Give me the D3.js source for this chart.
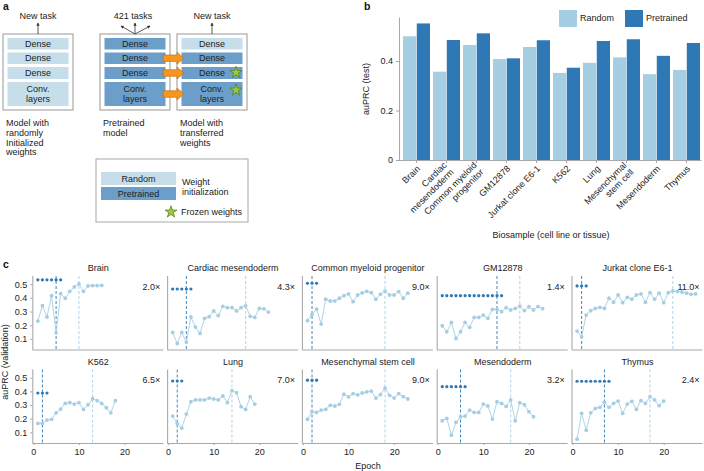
<!DOCTYPE html>
<html><head><meta charset="utf-8">
<script src="https://cdn.jsdelivr.net/npm/d3@7"></script>
<style>
body{margin:0;background:#fff;}
svg{display:block;font-family:"Liberation Sans",Arial,Helvetica,sans-serif;}
</style></head><body>
<svg id="chart" width="704" height="471"></svg>
<script>
// ---------- Panel b data ----------
const biosamples = ["Brain","Cardiac mesendoderm","Common myeloid progenitor","GM12878","Jurkat clone E6-1","K562","Lung","Mesenchymal stem cell","Mesendoderm","Thymus"];
const biosampleLabelLines = [["Brain"],["Cardiac","mesendoderm"],["Common myeloid","progenitor"],["GM12878"],["Jurkat clone E6-1"],["K562"],["Lung"],["Mesenchymal","stem cell"],["Mesendoderm"],["Thymus"]];
const seriesNames = ["Random","Pretrained"];
const testRandom = [0.500,0.357,0.465,0.408,0.457,0.352,0.393,0.415,0.347,0.364];
const testPretrained = [0.552,0.485,0.512,0.411,0.484,0.373,0.481,0.488,0.421,0.473];
const barYTicks = [0,0.2,0.4];

// ---------- Panel c data ----------
const panelTitles = ["Brain","Cardiac mesendoderm","Common myeloid progenitor","GM12878","Jurkat clone E6-1","K562","Lung","Mesenchymal stem cell","Mesendoderm","Thymus"];
const randomCurveBrain = [0.23,0.343,0.26,0.416,0.144,0.431,0.397,0.448,0.48,0.502,0.448,0.487,0.49,0.49,0.492];
const randomCurveCardiac = [0.147,0.066,0.147,0.076,0.26,0.186,0.14,0.25,0.262,0.304,0.27,0.338,0.328,0.328,0.304,0.328,0.342,0.265,0.257,0.323,0.32,0.296];
const randomCurveCMP = [0.233,0.279,0.318,0.208,0.39,0.377,0.377,0.397,0.416,0.429,0.372,0.421,0.436,0.448,0.438,0.39,0.426,0.45,0.421,0.421,0.446,0.397,0.434];
const randomCurveGM = [0.196,0.152,0.22,0.103,0.152,0.22,0.184,0.257,0.257,0.274,0.25,0.316,0.316,0.299,0.328,0.311,0.323,0.34,0.306,0.335,0.311,0.336,0.321];
const randomCurveJurkat = [0.157,0.115,0.274,0.306,0.323,0.331,0.323,0.397,0.368,0.421,0.365,0.404,0.39,0.421,0.429,0.368,0.438,0.39,0.434,0.365,0.438,0.451,0.446,0.443,0.434,0.426,0.429];
const randomCurveK562 = [0.165,0.165,0.19,0.195,0.243,0.27,0.312,0.317,0.307,0.317,0.268,0.302,0.346,0.332,0.312,0.28,0.243,0.332];
const randomCurveLung = [0.219,0.165,0.131,0.234,0.324,0.337,0.337,0.337,0.351,0.344,0.337,0.366,0.317,0.405,0.39,0.288,0.268,0.361,0.307];
const randomCurveMSC = [0.195,0.251,0.246,0.263,0.268,0.298,0.293,0.305,0.379,0.359,0.383,0.374,0.388,0.396,0.401,0.351,0.376,0.423,0.371,0.351,0.383,0.361,0.344];
const randomCurveMesendoderm = [0.185,0.202,0.079,0.173,0.214,0.219,0.263,0.246,0.246,0.307,0.293,0.197,0.324,0.312,0.29,0.337,0.185,0.317,0.302,0.251,0.214];
const randomCurveThymus = [0.05,0.239,0.116,0.243,0.275,0.283,0.32,0.283,0.312,0.329,0.239,0.307,0.327,0.268,0.332,0.312,0.361,0.337,0.295,0.329];
const randomCurves = [randomCurveBrain,randomCurveCardiac,randomCurveCMP,randomCurveGM,randomCurveJurkat,randomCurveK562,randomCurveLung,randomCurveMSC,randomCurveMesendoderm,randomCurveThymus];
const pretrainedLevel = [0.532,0.465,0.507,0.416,0.487,0.388,0.476,0.482,0.434,0.474];
const pretrainedEpochCount = [6,5,3,14,3,3,3,3,6,8];
const pretrainedBestEpoch = [5,4,2,13,2,2,2,2,5,7];
const randomBestEpoch = [10,17,18,18,22,13,14,18,16,17];
const speedups = ["2.0×","4.3×","9.0×","1.4×","11.0×","6.5×","7.0×","9.0×","3.2×","2.4×"];
const curveYTicks = [0.1,0.2,0.3,0.4,0.5];
const epochTicks = [0,10,20];

// ---------- Panel a diagram content ----------
const layerNames = [["Dense"],["Dense"],["Dense"],["Conv.","layers"]];
const modelInits = [
  ["Random","Random","Random","Random"],
  ["Pretrained","Pretrained","Pretrained","Pretrained"],
  ["Random","Pretrained","Pretrained","Pretrained"]
];
const modelTops = ["New task","421 tasks","New task"];
const modelCaptions = [["Model with","randomly","Initialized","weights"],["Pretrained","model"],["Model with","transferred","weights"]];
const frozenLayers = [2,3];
const transferredLayers = [1,2,3];

// ---------- styles ----------
const svg = d3.select("#chart");
const FS = 9;
const lightBlue = "#a6cee3", darkBlue = "#2e78b5";
const layerColor = {Random:"#c5deea", Pretrained:"#6b9fca"};
const gray = "#a8a8a8", textCol = "#222";

function letter(t,x,y){svg.append("text").attr("x",x).attr("y",y).attr("font-size",10.5).attr("font-weight","bold").attr("fill","#111").text(t);}
letter("a",3,10); letter("b",364,10); letter("c",3,268);

// ================= Panel a =================
const gA = svg.append("g");
const defs = svg.append("defs");
defs.append("marker").attr("id","ah").attr("viewBox","0 0 6 6").attr("refX",5).attr("refY",3)
  .attr("markerWidth",4).attr("markerHeight",4).attr("orient","auto")
  .append("path").attr("d","M0,0L6,3L0,6Z").attr("fill","#333");
const boxX = [3,100,177], boxY = 34, boxW = 70, boxH = 76;
const layerY = [38,52.5,67,82], layerH = [11.5,11.5,12,24];
modelInits.forEach((inits,bi)=>{
  const bx = boxX[bi];
  gA.append("rect").attr("x",bx).attr("y",boxY).attr("width",boxW).attr("height",boxH)
    .attr("fill","#fff").attr("stroke",gray).attr("stroke-width",1.2);
  inits.forEach((init,li)=>{
    gA.append("rect").attr("x",bx+4.5).attr("y",layerY[li]).attr("width",61).attr("height",layerH[li]).attr("fill",layerColor[init]);
    const lines = layerNames[li];
    const cy = layerY[li]+layerH[li]/2;
    lines.forEach((ln,k)=>{
      gA.append("text").attr("x",bx+35).attr("y",cy+3.2+(k-(lines.length-1)/2)*9.5)
        .attr("text-anchor","middle").attr("font-size",FS).attr("fill",textCol).text(ln);
    });
  });
  const cx = bx+35;
  if (bi===1){
    [[-14,-8],[0,-11],[15,-8]].forEach(d=>{
      gA.append("line").attr("x1",cx).attr("y1",boxY).attr("x2",cx+d[0]).attr("y2",boxY+d[1])
        .attr("stroke","#333").attr("stroke-width",0.8).attr("marker-end","url(#ah)");
    });
  } else {
    gA.append("line").attr("x1",cx).attr("y1",boxY).attr("x2",cx).attr("y2",boxY-11)
      .attr("stroke","#333").attr("stroke-width",0.8).attr("marker-end","url(#ah)");
  }
  gA.append("text").attr("x",cx-(bi===1?2:0)).attr("y",19).attr("text-anchor","middle").attr("font-size",FS).attr("fill",textCol).text(modelTops[bi]);
  modelCaptions[bi].forEach((ln,k)=>{
    gA.append("text").attr("x",bx+3).attr("y",126.3+k*9.7).attr("font-size",FS).attr("fill",textCol).text(ln);
  });
});
// transfer arrows
transferredLayers.forEach(li=>{
  const yc = layerY[li]+layerH[li]/2, x0 = 163;
  const pts = [[x0,yc-3.3],[x0+14,yc-3.3],[x0+14,yc-6],[x0+21,yc],[x0+14,yc+6],[x0+14,yc+3.3],[x0,yc+3.3]];
  gA.append("polygon").attr("points",pts.map(p=>p.join(",")).join(" "))
    .attr("fill","#f5961e").attr("stroke","#c06a05").attr("stroke-width",0.6);
});
const star = d3.symbol().type(d3.symbolStar).size(44);
frozenLayers.forEach(li=>{
  const yc = li===2 ? 72.5 : 90;
  gA.append("path").attr("d",star()).attr("transform",`translate(236,${yc})`)
    .attr("fill","#9bcb3c").attr("stroke","#4f7a1a").attr("stroke-width",0.7);
});
// legend box
gA.append("rect").attr("x",96).attr("y",159).attr("width",152).attr("height",63).attr("fill","#fff").attr("stroke",gray).attr("stroke-width",1);
seriesNames.forEach((s,i)=>{
  gA.append("rect").attr("x",101).attr("y",172+i*15).attr("width",75).attr("height",13).attr("fill",layerColor[s]);
  gA.append("text").attr("x",138.5).attr("y",181.8+i*15).attr("text-anchor","middle").attr("font-size",FS).attr("fill",textCol).text(s);
});
gA.append("text").attr("x",182).attr("y",185).attr("font-size",FS).attr("fill",textCol).text("Weight");
gA.append("text").attr("x",182).attr("y",195).attr("font-size",FS).attr("fill",textCol).text("initialization");
gA.append("path").attr("d",star()).attr("transform","translate(171,212)").attr("fill","#9bcb3c").attr("stroke","#4f7a1a").attr("stroke-width",0.7);
gA.append("text").attr("x",181).attr("y",215).attr("font-size",FS).attr("fill",textCol).text("Frozen weights");

// ================= Panel b =================
const gB = svg.append("g");
const xB = d3.scaleBand().domain(biosamples).range([401.5,701.5]).paddingInner(0.1).paddingOuter(0.05);
const xSub = d3.scaleBand().domain(seriesNames).range([0,xB.bandwidth()]).paddingInner(0.04);
const yB = d3.scaleLinear().domain([0,0.578]).range([160,17]);
const barColor = d3.scaleOrdinal().domain(seriesNames).range([lightBlue,darkBlue]);
const barData = biosamples.map((b,i)=>({b, vals:[{s:"Random",v:testRandom[i]},{s:"Pretrained",v:testPretrained[i]}]}));
gB.selectAll("g.grp").data(barData).join("g").attr("class","grp")
  .attr("transform",d=>`translate(${xB(d.b)},0)`)
  .selectAll("rect").data(d=>d.vals).join("rect")
  .attr("x",d=>xSub(d.s)).attr("width",xSub.bandwidth())
  .attr("y",d=>yB(d.v)).attr("height",d=>yB(0)-yB(d.v)).attr("fill",d=>barColor(d.s));
const yAxB = gB.append("g").attr("transform","translate(399,0)")
  .call(d3.axisLeft(yB).tickValues(barYTicks).tickFormat(d=>d===0?"0":d3.format(".1f")(d)).tickSize(3).tickSizeOuter(0).tickPadding(3));
const xAxB = gB.append("g").attr("transform","translate(0,160)")
  .call(d3.axisBottom(xB).tickSize(3).tickSizeOuter(0).tickFormat(""));
[yAxB,xAxB].forEach(a=>{a.selectAll("path,line").attr("stroke",gray); a.selectAll("text").attr("font-size",FS).attr("fill",textCol).attr("font-family",null);});
xAxB.select(".domain").attr("d","M399,0.5H701.5");
biosamples.forEach((b,i)=>{
  const lines = biosampleLabelLines[i];
  const t = gB.append("text").attr("transform",`translate(${xB(b)+xB.bandwidth()/2+2},167) rotate(-45)`)
    .attr("text-anchor","end").attr("font-size",FS).attr("fill",textCol);
  lines.forEach((ln,k)=>{
    t.append("tspan").attr("x",0).attr("dy", lines.length===1 ? "0.35em" : (k===0?"-0.2em":"1.1em")).text(ln);
  });
});
gB.append("text").attr("transform","translate(369,89) rotate(-90)").attr("text-anchor","middle").attr("font-size",FS).attr("fill",textCol).text("auPRC (test)");
gB.append("text").attr("x",551).attr("y",238).attr("text-anchor","middle").attr("font-size",FS).attr("fill",textCol).text("Biosample (cell line or tissue)");
seriesNames.forEach((s,i)=>{
  const lx = [559,625][i];
  gB.append("rect").attr("x",lx).attr("y",10).attr("width",18).attr("height",17).attr("fill",barColor(s));
  gB.append("text").attr("x",lx+21).attr("y",21).attr("font-size",FS).attr("fill",textCol).text(s);
});

// ================= Panel c =================
const gC = svg.append("g");
panelTitles.forEach((title,i)=>{
  const col = i%5, row = Math.floor(i/5);
  const left = 33.3 + col*134.8, top = 276 + row*93.5, bottom = 349.5 + row*93.5;
  const x = d3.scaleLinear().domain([0,28.5]).range([left,left+130]);
  const y = d3.scaleLinear().domain([0.022,0.56]).range([bottom,top]);
  const g = gC.append("g");
  g.append("line").attr("x1",x(randomBestEpoch[i])).attr("x2",x(randomBestEpoch[i])).attr("y1",top).attr("y2",bottom)
    .attr("stroke",lightBlue).attr("stroke-width",0.9).attr("stroke-dasharray","3,2");
  g.append("line").attr("x1",x(pretrainedBestEpoch[i])).attr("x2",x(pretrainedBestEpoch[i])).attr("y1",top).attr("y2",bottom)
    .attr("stroke",darkBlue).attr("stroke-width",0.9).attr("stroke-dasharray","3,2");
  const ax = g.append("g").attr("transform",`translate(${left-1},0)`)
    .call(d3.axisLeft(y).tickValues(col===0?curveYTicks:[]).tickSize(col===0?2:0).tickSizeOuter(0).tickPadding(3).tickFormat(d3.format(".1f")));
  ax.select(".domain").attr("d",`M0.5,${top}V${bottom}`);
  const bx = g.append("g").attr("transform",`translate(0,${bottom})`)
    .call(d3.axisBottom(x).tickValues(row===1?epochTicks:[]).tickSize(row===1?2:0).tickSizeOuter(0).tickPadding(4));
  bx.select(".domain").attr("d",`M${left-1},0.5H${left+130}`);
  [ax,bx].forEach(a=>{a.selectAll("path,line").attr("stroke",gray).attr("stroke-width",1.1); a.selectAll("text").attr("font-size",FS).attr("fill",textCol).attr("font-family",null);});
  const pts = randomCurves[i].map((v,k)=>({e:k+1,v}));
  g.append("path").datum(pts).attr("fill","none").attr("stroke",lightBlue).attr("stroke-width",0.9)
    .attr("d",d3.line().x(d=>x(d.e)).y(d=>y(d.v)));
  g.selectAll("circle.r").data(pts).join("circle").attr("class","r")
    .attr("cx",d=>x(d.e)).attr("cy",d=>y(d.v)).attr("r",1.9).attr("fill",lightBlue);
  const pp = d3.range(1,pretrainedEpochCount[i]+1).map(e=>({e,v:pretrainedLevel[i]}));
  g.selectAll("circle.p").data(pp).join("circle").attr("class","p")
    .attr("cx",d=>x(d.e)).attr("cy",d=>y(d.v)).attr("r",1.6).attr("fill",darkBlue);
  g.append("text").attr("x",left+65).attr("y",top-5).attr("text-anchor","middle").attr("font-size",FS).attr("fill",textCol).text(title);
  g.append("text").attr("x",left+127).attr("y",top+13.5).attr("text-anchor","end").attr("font-size",FS).attr("fill",textCol).text(speedups[i]);
});
gC.append("text").attr("transform","translate(8,362) rotate(-90)").attr("text-anchor","middle").attr("font-size",FS).attr("fill",textCol).text("auPRC (validation)");
gC.append("text").attr("x",368).attr("y",469).attr("text-anchor","middle").attr("font-size",FS).attr("fill",textCol).text("Epoch");
</script>
</body></html>
